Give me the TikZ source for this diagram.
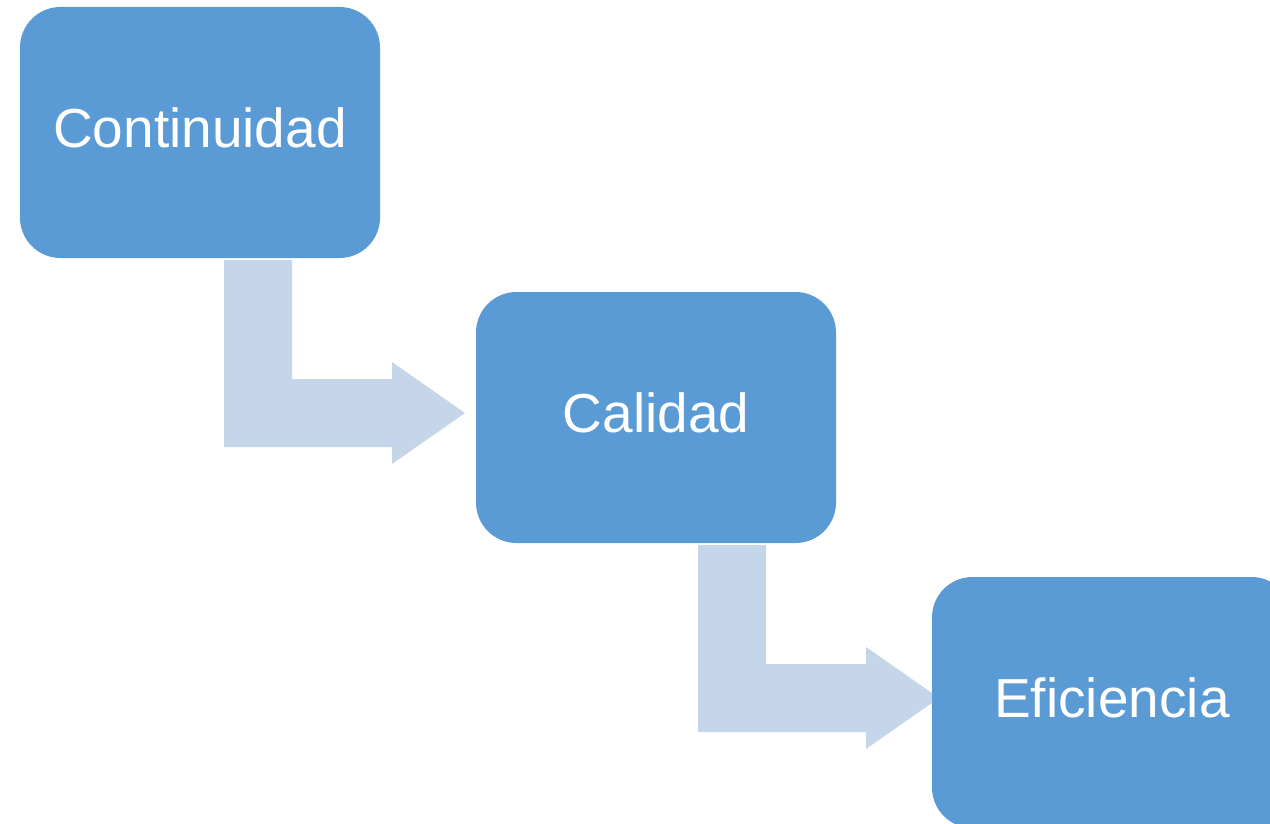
\documentclass[tikz,border=0pt]{standalone}
\usepackage{fontspec}
\setmainfont{Liberation Sans}
\definecolor{boxblue}{HTML}{5B9BD5}
\definecolor{arrowblue}{HTML}{C5D5EA}
\newcommand\liftlabel[1]{\raisebox{5pt}[\height][\depth]{#1}}
\begin{document}
\begin{tikzpicture}[x=1pt,y=-1pt,
  stepbox/.style={fill=boxblue, draw=boxblue, line width=1pt,
    rounded corners=40pt, minimum width=359pt, minimum height=250pt,
    inner sep=0pt, text=white, font=\fontsize{55}{60}\selectfont, anchor=north west},
  bentarrow/.style={fill=arrowblue, draw=none}]
\useasboundingbox (0,0) rectangle (1270,824);
\clip (0,0) rectangle (1270,824);
\fill[white] (0,0) rectangle (1270,824);
\foreach \dx/\dy in {0/0, 474/285}{
  \fill[bentarrow, shift={(\dx,\dy)}] (224,260) -- (292,260) -- (292,379) -- (392,379) -- (392,362)
    -- (465,413) -- (392,464) -- (392,447) -- (224,447) -- cycle;
}
\node[stepbox] (b1) at (20,7) {\liftlabel{Continuidad}};
\node[stepbox] (b2) at (476,292) {\liftlabel{Calidad}};
\node[stepbox] (b3) at (932,577) {\liftlabel{Eficiencia}};
\end{tikzpicture}
\end{document}
